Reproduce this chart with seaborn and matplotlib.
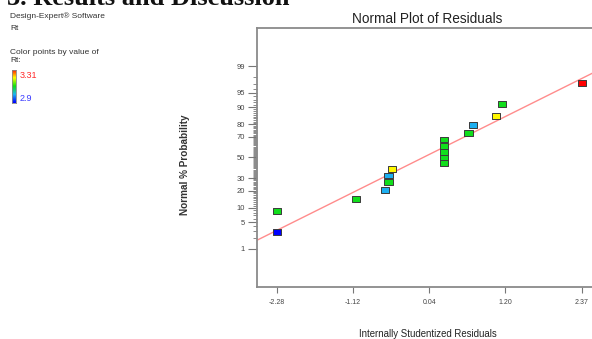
import numpy as np
import pandas as pd
import seaborn as sns
import matplotlib
matplotlib.use("Agg")
import matplotlib.pyplot as plt
from matplotlib.colors import LinearSegmentedColormap
from matplotlib.path import Path
from statistics import NormalDist

# ---- data ----
residuals = [-2.28, -2.28, -1.07, -0.64, -0.58, -0.58, -0.52,
             0.27, 0.27, 0.27, 0.27, 0.27, 0.64, 0.71, 1.06, 1.15, 2.37]
normal_pct = [2.94, 8.82, 14.71, 20.59, 26.47, 32.35, 38.24, 44.12, 50.0,
              55.88, 61.76, 67.65, 73.53, 79.41, 85.29, 91.18, 97.06]
rt_values = [2.90, 3.10, 3.10, 3.00, 3.10, 3.00, 3.21,
             3.10, 3.10, 3.10, 3.10, 3.10, 3.10, 3.00, 3.21, 3.10, 3.31]
x_ticks = [-2.28, -1.12, 0.04, 1.20, 2.37]
x_tick_labels = ["-2.28", "-1.12", "0.04", "1.20", "2.37"]
y_ticks = [1, 5, 10, 20, 30, 50, 70, 80, 90, 95, 99]
y_tick_labels = ["1", "5", "10", "20", "30", "50", "70", "80", "90", "95", "99"]
fit_line_x = [-2.28, 2.37]
fit_line_pct = [3.2, 97.8]
rt_min, rt_max = 2.9, 3.31

df = pd.DataFrame({"residual": residuals, "pct": normal_pct, "Rt": rt_values})

sns.set_style("white")
plt.rcParams["font.family"] = ["Liberation Sans", "DejaVu Sans"]

cmap = LinearSegmentedColormap.from_list(
    "de", [(0.0, "#0000ff"), (0.25, "#1eb4f0"), (0.5, "#10e010"),
           (0.75, "#ffff00"), (1.0, "#ff0000")])

nd = NormalDist()
_ppf = np.vectorize(lambda p: nd.inv_cdf(min(max(p / 100.0, 1e-7), 1 - 1e-7)), otypes=[float])
_cdf = np.vectorize(lambda z: nd.cdf(z) * 100.0, otypes=[float])


def fwd(p):
    return _ppf(np.asarray(p, dtype=float))


def inv(z):
    return _cdf(np.asarray(z, dtype=float))


fig = plt.figure(figsize=(5.92, 3.39), dpi=100)
W, H = 592.0, 339.0
ax = fig.add_axes([257 / W, 1 - 287 / H, (598 - 257) / W, (287 - 28) / H])

rect = Path([(-1, -0.72), (1, -0.72), (1, 0.72), (-1, 0.72), (-1, -0.72)],
            [Path.MOVETO, Path.LINETO, Path.LINETO, Path.LINETO, Path.CLOSEPOLY])

ax.set_yscale("function", functions=(fwd, inv))
ax.axline((fit_line_x[0], fit_line_pct[0]), (fit_line_x[1], fit_line_pct[1]),
          color="#ff8c8c", lw=1.0, zorder=1)
sns.scatterplot(data=df, x="residual", y="pct", hue="Rt", palette=cmap,
                hue_norm=(rt_min, rt_max), marker=rect, s=34,
                edgecolor="#3a3a3a", linewidth=0.7, legend=False, ax=ax, zorder=3)

ax.set_xlim(-2.585, 2.614)
ax.set_ylim(0.049, 99.951)
ax.set_xticks(x_ticks)
ax.set_xticklabels(x_tick_labels)
ax.set_yticks(y_ticks)
ax.set_yticklabels(y_tick_labels)
ax.set_yticks([v for v in range(1, 100) if v not in y_ticks], minor=True)

for s in ax.spines.values():
    s.set_color("#8a8a8a")
    s.set_linewidth(1.3)
ax.tick_params(axis="y", which="major", direction="out", length=6.5, width=0.8,
               color="#777777", labelsize=5.5, labelcolor="#444444", pad=2, left=True)
ax.tick_params(axis="y", which="minor", direction="out", length=3.2, width=0.6,
               color="#777777", left=True)
ax.tick_params(axis="x", which="major", direction="out", length=4.5, width=0.8,
               color="#777777", labelsize=5.0, labelcolor="#444444", pad=4, bottom=True)

ax.set_xlabel("")
ax.set_ylabel("Normal % Probability", fontsize=7.2, fontweight="bold", color="#333333")
ax.yaxis.set_label_coords((190 - 257) / 341, (287 - 165) / 259)
ax.set_title("Normal Plot of Residuals", fontsize=9.8, color="#222222", pad=3.5)
fig.text(428 / W, 1 - 334 / H, "Internally Studentized Residuals",
         fontsize=6.9, color="#222222", ha="center", va="center")

# left-hand annotation block
fig.text(7 / W, 1 - 5 / H, "3. Results and Discussion", fontsize=19, fontweight="bold",
         family=["Liberation Serif", "DejaVu Serif"], ha="left", va="baseline", color="#111111")
fig.text(10 / W, 1 - 16 / H, "Design-Expert\u00ae Software", fontsize=6.0,
         color="#333333", ha="left", va="center")
fig.text(10 / W, 1 - 28 / H, "Rt", fontsize=6.0, color="#333333", ha="left", va="center")
fig.text(10 / W, 1 - 52 / H, "Color points by value of", fontsize=6.0,
         color="#333333", ha="left", va="center")
fig.text(10 / W, 1 - 61 / H, "Rt:", fontsize=6.0, color="#333333", ha="left", va="center")

cax = fig.add_axes([12 / W, 1 - 103 / H, 3.5 / W, 33 / H])
grad = np.linspace(rt_max, rt_min, 64).reshape(-1, 1)
cax.imshow(grad, aspect="auto", cmap=cmap, vmin=rt_min, vmax=rt_max)
cax.set_xticks([])
cax.set_yticks([])
for s in cax.spines.values():
    s.set_color("#888888")
    s.set_linewidth(0.6)
fig.text(20 / W, 1 - 75 / H, f"{rt_max:.2f}", fontsize=6.5, color="#ff2a2a",
         ha="left", va="center")
fig.text(20 / W, 1 - 98 / H, f"{rt_min:.1f}", fontsize=6.5, color="#3a3aff",
         ha="left", va="center")

fig.savefig("out.png", dpi=100)
